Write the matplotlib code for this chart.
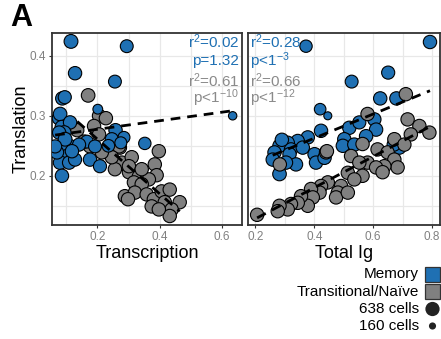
import numpy as np
import matplotlib
matplotlib.use("Agg")
import matplotlib.pyplot as plt
from matplotlib.patches import Rectangle

plt.rcParams["font.family"] = ["Liberation Sans", "DejaVu Sans"]
plt.rcParams["mathtext.fontset"] = "custom"
plt.rcParams["mathtext.rm"] = "Liberation Sans"
plt.rcParams["mathtext.default"] = "regular"

BLUE = "#1f70b3"
GRAY = "#808080"
TXT_GRAY = "#8a8a8a"

# left panel: transcription vs translation
mem_tx = [0.115, 0.294, 0.128, 0.256, 0.087, 0.095, 0.201, 0.634, 0.077, 0.080,
          0.086, 0.112, 0.258, 0.093, 0.077, 0.285, 0.246, 0.352, 0.112, 0.086,
          0.166, 0.141, 0.102, 0.080, 0.109, 0.128, 0.176, 0.208, 0.086, 0.070,
          0.096, 0.118, 0.064, 0.192, 0.275, 0.235]
mem_tl_left = [0.424, 0.416, 0.371, 0.357, 0.329, 0.331, 0.311, 0.300, 0.296, 0.303,
               0.281, 0.289, 0.276, 0.272, 0.272, 0.264, 0.261, 0.254, 0.249, 0.244,
               0.257, 0.252, 0.233, 0.222, 0.222, 0.227, 0.227, 0.216, 0.200, 0.239,
               0.261, 0.241, 0.249, 0.249, 0.255, 0.250]
mem_cells_left = [600, 520, 560, 520, 560, 540, 300, 220, 600, 580,
                  600, 560, 560, 600, 560, 450, 540, 480, 600, 560,
                  520, 540, 560, 580, 560, 540, 560, 540, 560, 560,
                  600, 560, 540, 520, 450, 500]

nai_tx = [0.170, 0.205, 0.227, 0.189, 0.135, 0.205, 0.176, 0.230, 0.272, 0.278,
          0.310, 0.397, 0.384, 0.256, 0.301, 0.333, 0.390, 0.365, 0.317, 0.342,
          0.288, 0.320, 0.358, 0.381, 0.406, 0.432, 0.416, 0.464, 0.438, 0.432,
          0.374, 0.397, 0.269, 0.246, 0.214, 0.157, 0.301, 0.342, 0.298]
nai_tl_left = [0.334, 0.300, 0.296, 0.283, 0.276, 0.269, 0.249, 0.239, 0.247, 0.222,
               0.231, 0.241, 0.219, 0.211, 0.206, 0.199, 0.201, 0.194, 0.189, 0.186,
               0.166, 0.172, 0.169, 0.161, 0.174, 0.177, 0.156, 0.156, 0.144, 0.133,
               0.149, 0.144, 0.249, 0.231, 0.239, 0.257, 0.216, 0.211, 0.161]
nai_cells_left = [580, 560, 560, 560, 560, 560, 560, 560, 560, 560,
                  560, 560, 560, 560, 560, 560, 560, 560, 560, 560,
                  560, 560, 560, 560, 560, 560, 560, 560, 560, 560,
                  560, 560, 560, 560, 560, 560, 560, 560, 560]

# right panel: total Ig vs translation
mem_ig = [0.372, 0.793, 0.651, 0.527, 0.624, 0.679, 0.420, 0.446, 0.519, 0.553,
          0.604, 0.610, 0.576, 0.502, 0.497, 0.536, 0.423, 0.378, 0.344, 0.310,
          0.282, 0.321, 0.361, 0.265, 0.259, 0.316, 0.401, 0.406, 0.338, 0.304,
          0.282, 0.689, 0.670, 0.435, 0.290]
mem_tl_right = [0.416, 0.423, 0.372, 0.357, 0.329, 0.329, 0.311, 0.300, 0.280, 0.289,
                0.294, 0.277, 0.266, 0.261, 0.250, 0.252, 0.275, 0.264, 0.258, 0.255,
                0.250, 0.244, 0.247, 0.239, 0.227, 0.236, 0.236, 0.222, 0.219, 0.222,
                0.203, 0.247, 0.252, 0.230, 0.260]
mem_cells_right = [480, 560, 540, 520, 560, 560, 420, 200, 560, 540,
                   560, 560, 560, 560, 560, 560, 560, 560, 560, 560,
                   560, 560, 560, 560, 560, 560, 560, 560, 560, 560,
                   580, 560, 560, 560, 560]

nai_ig = [0.206, 0.711, 0.717, 0.757, 0.791, 0.728, 0.672, 0.706, 0.581, 0.564,
          0.615, 0.649, 0.672, 0.683, 0.638, 0.581, 0.610, 0.525, 0.553, 0.514,
          0.564, 0.536, 0.491, 0.480, 0.474, 0.514, 0.440, 0.446, 0.423, 0.418,
          0.389, 0.395, 0.378, 0.355, 0.344, 0.321, 0.310, 0.282, 0.276, 0.632,
          0.283, 0.443]
nai_tl_right = [0.135, 0.336, 0.294, 0.283, 0.272, 0.269, 0.261, 0.252, 0.303, 0.253,
                0.244, 0.239, 0.227, 0.214, 0.216, 0.222, 0.214, 0.233, 0.222, 0.205,
                0.200, 0.194, 0.183, 0.172, 0.164, 0.172, 0.239, 0.189, 0.183, 0.172,
                0.178, 0.164, 0.150, 0.166, 0.155, 0.153, 0.144, 0.150, 0.141, 0.206,
                0.219, 0.241]
nai_cells_right = [560, 560, 560, 560, 560, 560, 560, 560, 560, 560,
                   560, 560, 560, 560, 560, 560, 560, 560, 560, 560,
                   560, 560, 560, 560, 560, 560, 560, 560, 560, 560,
                   560, 560, 560, 560, 560, 560, 560, 560, 560, 560,
                   560, 560]

stats_left = ["r$^{2}$=0.02", "p=1.32", "r$^{2}$=0.61", "p<1$^{-10}$"]
stats_right = ["r$^{2}$=0.28", "p<1$^{-3}$", "r$^{2}$=0.66", "p<1$^{-12}$"]
stats_colors = [BLUE, BLUE, TXT_GRAY, TXT_GRAY]

legend_groups = ["Memory", "Transitional/Naïve"]
legend_cells = [638, 160]

SIZE_K = 0.165  # points^2 per cell


def style_axes(ax, xticks, xminor):
    ax.set_ylim(0.118, 0.438)
    ax.set_yticks([0.2, 0.3, 0.4])
    ax.set_yticks([0.15, 0.25, 0.35], minor=True)
    ax.set_xticks(xticks)
    ax.set_xticks(xminor, minor=True)
    ax.set_xticklabels([f"{t:.1f}" for t in xticks])
    ax.grid(True, which="both", color="#e8e8e8", lw=0.9, zorder=0)
    ax.set_axisbelow(True)
    for s in ax.spines.values():
        s.set_color("#333333")
        s.set_linewidth(1.3)
    ax.tick_params(which="major", length=2.5, width=0.8, color="#333333",
                   labelcolor="#808080", labelsize=8.5, pad=2)
    ax.tick_params(which="minor", length=0)


def scatter_fit(ax, x, y, cells, color, z):
    x = np.array(x)
    y = np.array(y)
    ax.scatter(x, y, s=np.array(cells) * SIZE_K, c=color, edgecolors="black",
               linewidths=0.8, zorder=z)
    k, b = np.polyfit(x, y, 1)
    xs = np.array([x.min(), x.max()])
    ax.plot(xs, k * xs + b, color="black", lw=2, ls=(0, (3.5, 2.5)), zorder=10)


fig = plt.figure(figsize=(4.41, 3.39), dpi=100)
axL = fig.add_axes([52 / 441, 114 / 339, 190 / 441, 192 / 339])
axR = fig.add_axes([248 / 441, 114 / 339, 192 / 441, 192 / 339])

scatter_fit(axL, nai_tx, nai_tl_left, nai_cells_left, GRAY, 3)
scatter_fit(axL, mem_tx, mem_tl_left, mem_cells_left, BLUE, 4)
axL.set_xlim(0.054, 0.664)
style_axes(axL, [0.2, 0.4, 0.6], [0.1, 0.3, 0.5])
axL.set_xlabel("Transcription", fontsize=13, labelpad=1)
axL.set_ylabel("Translation", fontsize=13, labelpad=0)

scatter_fit(axR, mem_ig, mem_tl_right, mem_cells_right, BLUE, 3)
scatter_fit(axR, nai_ig, nai_tl_right, nai_cells_right, GRAY, 4)
axR.set_xlim(0.175, 0.827)
style_axes(axR, [0.2, 0.4, 0.6, 0.8], [0.3, 0.5, 0.7])
axR.set_yticklabels([])
axR.tick_params(axis="y", length=0)
axR.set_xlabel("Total Ig", fontsize=13, labelpad=1)

ys = [0.953, 0.852, 0.752, 0.658]
for txt, col, yy in zip(stats_left, stats_colors, ys):
    axL.text(0.985, yy, txt, transform=axL.transAxes, ha="right", va="center",
             color=col, fontsize=11, zorder=12)
for txt, col, yy in zip(stats_right, stats_colors, ys):
    axR.text(0.01, yy, txt, transform=axR.transAxes, ha="left", va="center",
             color=col, fontsize=11, zorder=12)

fig.text(10 / 441, 1 - 18 / 339, "A", fontsize=22, fontweight="bold",
         va="center", ha="left")

# legend drawn in pixel space
axLeg = fig.add_axes([0, 0, 1, 1])
axLeg.set_xlim(0, 441)
axLeg.set_ylim(339, 0)
axLeg.axis("off")
for i, (lab, col) in enumerate(zip(legend_groups, [BLUE, GRAY])):
    yc = 274 + i * 17.5
    axLeg.add_patch(Rectangle((425, yc - 7.5), 15, 15, facecolor=col,
                              edgecolor="#333333", lw=0.9))
    axLeg.text(419, yc, lab, ha="right", va="center", fontsize=11)
for i, c in enumerate(legend_cells):
    yc = 309 + i * 17
    axLeg.scatter([432.5], [yc], s=c * SIZE_K, c="#222222", edgecolors="none")
    axLeg.text(419, yc, f"{c} cells", ha="right", va="center", fontsize=11)

fig.savefig("out.png", dpi=100)
